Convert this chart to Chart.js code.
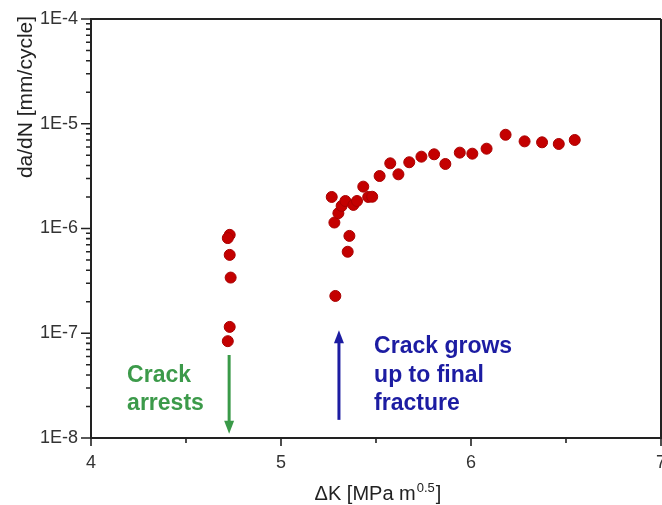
<!DOCTYPE html>
<html>
<head>
<meta charset="utf-8">
<script src="https://cdn.jsdelivr.net/npm/chart.js@4/dist/chart.umd.min.js"></script>
<style>
  html, body { margin: 0; padding: 0; background: #fff; overflow: hidden; }
  #wrap { width: 662px; height: 505px; overflow: hidden; position: relative; }
  canvas { position: absolute; left: 0; top: 0; }
</style>
</head>
<body>
<div id="wrap"><canvas id="c" width="700" height="505"></canvas></div>
<script>
// Stress intensity range ΔK [MPa m^0.5] and crack growth rate da/dN [mm/cycle]
const arrestDK   = [4.73, 4.72, 4.73, 4.735, 4.73, 4.72];
const arrestRate = [8.7e-7, 8.1e-7, 5.6e-7, 3.4e-7, 1.15e-7, 8.4e-8];

const growthDK   = [5.267, 5.281, 5.302, 5.319, 5.339, 5.360, 5.351, 5.286, 5.381, 5.400,
                    5.433, 5.459, 5.480, 5.519, 5.575, 5.618, 5.675, 5.739, 5.806, 5.865,
                    5.941, 6.007, 6.082, 6.182, 6.282, 6.374, 6.462, 6.546];
const growthRate = [2.0e-6, 1.14e-6, 1.40e-6, 1.64e-6, 1.83e-6, 8.5e-7, 6.0e-7, 2.27e-7, 1.68e-6, 1.83e-6,
                    2.51e-6, 2.0e-6, 2.01e-6, 3.17e-6, 4.19e-6, 3.29e-6, 4.29e-6, 4.85e-6, 5.11e-6, 4.13e-6,
                    5.30e-6, 5.18e-6, 5.78e-6, 7.85e-6, 6.79e-6, 6.65e-6, 6.41e-6, 7.0e-6];

const xTicks = [4, 5, 6, 7];
const xMinorTicks = [4.5, 5.5, 6.5];
const yDecades = [1e-8, 1e-7, 1e-6, 1e-5, 1e-4];

const toPoints = (xs, ys) => xs.map((x, i) => ({ x: x, y: ys[i] }));

const FONT = 'Arial, "Liberation Sans", sans-serif';
const AXIS = '#222';

// Axis ticks, frame, titles and the two annotated arrows
const decorations = {
  id: 'decorations',
  afterDraw(chart) {
    const ctx = chart.ctx;
    const xs = chart.scales.x, ys = chart.scales.y;
    const a = chart.chartArea;
    ctx.save();
    ctx.strokeStyle = AXIS;
    ctx.lineWidth = 2;

    // frame (top and right)
    ctx.beginPath();
    ctx.moveTo(a.left, a.top); ctx.lineTo(a.right, a.top);
    ctx.moveTo(a.right, a.top); ctx.lineTo(a.right, a.bottom);
    ctx.stroke();

    // y ticks: decades and log minors, pointing outward
    ctx.lineWidth = 1.6;
    ctx.beginPath();
    yDecades.forEach((d, i) => {
      const p = ys.getPixelForValue(d);
      ctx.moveTo(a.left - 10, p); ctx.lineTo(a.left, p);
      if (i < yDecades.length - 1) {
        for (let m = 2; m <= 9; m++) {
          const q = ys.getPixelForValue(m * d);
          ctx.moveTo(a.left - 5, q); ctx.lineTo(a.left, q);
        }
      }
    });
    // x ticks
    xTicks.forEach(v => {
      const p = xs.getPixelForValue(v);
      ctx.moveTo(p, a.bottom); ctx.lineTo(p, a.bottom + 8);
    });
    xMinorTicks.forEach(v => {
      const p = xs.getPixelForValue(v);
      ctx.moveTo(p, a.bottom); ctx.lineTo(p, a.bottom + 5);
    });
    ctx.stroke();

    // y title
    ctx.fillStyle = '#222';
    ctx.font = '21px ' + FONT;
    ctx.save();
    ctx.translate(32, 97);
    ctx.rotate(-Math.PI / 2);
    ctx.textAlign = 'center';
    ctx.textBaseline = 'alphabetic';
    ctx.fillText('da/dN [mm/cycle]', 0, 0);
    ctx.restore();

    // x title with superscript exponent
    const main1 = '\u0394K [MPa m', sup = '0.5', main2 = ']';
    ctx.font = '20px ' + FONT;
    const w1 = ctx.measureText(main1).width, w3 = ctx.measureText(main2).width;
    ctx.font = '13px ' + FONT;
    const w2 = ctx.measureText(sup).width;
    let x0 = 377 - (w1 + w2 + w3) / 2;
    const base = 500;
    ctx.textAlign = 'left';
    ctx.font = '20px ' + FONT;
    ctx.fillText(main1, x0, base);
    ctx.font = '13px ' + FONT;
    ctx.fillText(sup, x0 + w1 + 1, base - 8);
    ctx.font = '20px ' + FONT;
    ctx.fillText(main2, x0 + w1 + w2 + 2, base);

    // arrows
    const arrow = (xv, y0v, y1v, color) => {
      const px = xs.getPixelForValue(xv);
      const p0 = ys.getPixelForValue(y0v), p1 = ys.getPixelForValue(y1v);
      const dir = Math.sign(p1 - p0);
      ctx.strokeStyle = color; ctx.fillStyle = color; ctx.lineWidth = 3;
      ctx.beginPath(); ctx.moveTo(px, p0); ctx.lineTo(px, p1 - dir * 10); ctx.stroke();
      ctx.beginPath();
      ctx.moveTo(px, p1);
      ctx.lineTo(px - 5, p1 - dir * 13);
      ctx.lineTo(px + 5, p1 - dir * 13);
      ctx.closePath(); ctx.fill();
    };
    arrow(4.727, 6.2e-8, 1.1e-8, '#3a9a48');
    arrow(5.305, 1.49e-8, 1.07e-7, '#1c1ca2');

    // annotation text
    ctx.font = 'bold 23px ' + FONT;
    ctx.textAlign = 'left';
    ctx.fillStyle = '#3c9a4a';
    const gx = xs.getPixelForValue(4.19);
    ctx.fillText('Crack', gx, ys.getPixelForValue(3.43e-8));
    ctx.fillText('arrests', gx, ys.getPixelForValue(1.85e-8));
    ctx.fillStyle = '#1c1ca2';
    const bx = xs.getPixelForValue(5.49);
    ctx.fillText('Crack grows', bx, ys.getPixelForValue(6.47e-8));
    ctx.fillText('up to final', bx, ys.getPixelForValue(3.43e-8));
    ctx.fillText('fracture', bx, ys.getPixelForValue(1.85e-8));

    ctx.restore();
  }
};

const pointStyle = {
  showLine: false,
  pointRadius: 5.5,
  pointHoverRadius: 5.5,
  pointBackgroundColor: '#c40000',
  pointBorderColor: '#a80000',
  pointBorderWidth: 1
};

new Chart(document.getElementById('c'), {
  type: 'scatter',
  data: {
    datasets: [
      Object.assign({ label: 'Crack arrest', data: toPoints(arrestDK, arrestRate) }, pointStyle),
      Object.assign({ label: 'Crack growth', data: toPoints(growthDK, growthRate) }, pointStyle)
    ]
  },
  options: {
    responsive: false,
    devicePixelRatio: 1,
    animation: false,
    layout: { padding: { top: 19, right: 39, left: 0, bottom: 0 } },
    plugins: { legend: { display: false }, tooltip: { enabled: false } },
    scales: {
      x: {
        type: 'linear', min: 4, max: 7,
        grid: { display: false, drawTicks: false, tickLength: 0 },
        border: { display: true, color: AXIS, width: 2 },
        ticks: { font: { size: 18, family: FONT }, color: '#333', padding: 14, maxRotation: 0, autoSkip: false },
        afterBuildTicks: s => { s.ticks = xTicks.map(v => ({ value: v })); },
        afterFit: s => { s.height = 505 - 438; s.paddingLeft = 0; s.paddingRight = 0; }
      },
      y: {
        type: 'logarithmic', min: 1e-8, max: 1e-4,
        grid: { display: false, drawTicks: false, tickLength: 0 },
        border: { display: true, color: AXIS, width: 2 },
        ticks: {
          font: { size: 18, family: FONT }, color: '#333', padding: 13, autoSkip: false,
          callback: v => '1E' + Math.round(Math.log10(v))
        },
        afterBuildTicks: s => { s.ticks = yDecades.map(v => ({ value: v })); },
        afterFit: s => { s.width = 91; s.paddingTop = 0; s.paddingBottom = 0; }
      }
    }
  },
  plugins: [decorations]
});
</script>
</body>
</html>
